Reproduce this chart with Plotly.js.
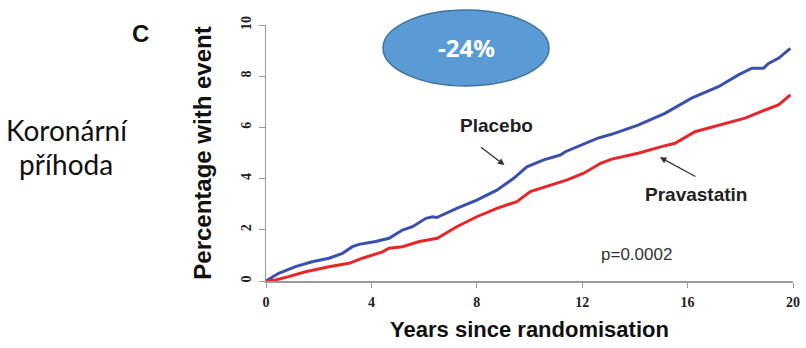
<!DOCTYPE html>
<html>
<head>
<meta charset="utf-8">
<script src="https://cdn.plot.ly/plotly-3.0.1.min.js"></script>
<style>
html,body{margin:0;padding:0;background:#fff;}
#chart{width:806px;height:348px;}
</style>
</head>
<body>
<div id="chart"></div>
<script>
// Years since randomisation (x) and percentage with event (y)
const placeboYears = [0, 0.48, 1.12, 1.75, 2.39, 2.9, 3.28, 3.53, 4.16, 4.67, 5.18, 5.56, 6.07, 6.32, 6.48, 7.24, 8.0, 8.76, 9.4, 9.9, 10.54, 11.17, 11.36, 11.94, 12.57, 13.14, 14.12, 15.14, 16.15, 17.17, 17.93, 18.44, 18.88, 19.07, 19.45, 19.9];
const placeboPct   = [0, 0.30, 0.56, 0.75, 0.89, 1.08, 1.34, 1.43, 1.54, 1.67, 1.99, 2.12, 2.45, 2.51, 2.48, 2.84, 3.16, 3.55, 4.01, 4.46, 4.73, 4.92, 5.05, 5.31, 5.57, 5.74, 6.09, 6.55, 7.14, 7.59, 8.05, 8.31, 8.31, 8.5, 8.7, 9.09];

const pravaYears = [0, 0.36, 0.86, 1.5, 2.39, 3.15, 3.66, 4.42, 4.67, 5.18, 5.82, 6.5, 7.24, 8.0, 8.76, 9.52, 10.03, 10.79, 11.43, 12.06, 12.7, 13.12, 14.12, 15.01, 15.52, 16.28, 17.17, 18.18, 18.94, 19.45, 19.9];
const pravaPct   = [0, 0.04, 0.17, 0.36, 0.56, 0.69, 0.89, 1.14, 1.28, 1.34, 1.54, 1.67, 2.12, 2.51, 2.84, 3.1, 3.49, 3.75, 3.95, 4.21, 4.6, 4.76, 4.99, 5.25, 5.38, 5.83, 6.09, 6.36, 6.68, 6.88, 7.27];

const xTicks = [0, 4, 8, 12, 16, 20];
const yTicks = [0, 2, 4, 6, 8, 10];

const seriesNames = ['Placebo', 'Pravastatin'];
const reductionLabel = '-24%';
const pValueLabel = 'p=0.0002';
const panelLabel = 'C';
const sideLabel = ['Koronární', 'příhoda'];
const xTitle = 'Years since randomisation';
const yTitle = 'Percentage with event';

const traces = [
  {x: placeboYears, y: placeboPct, name: seriesNames[0], type: 'scatter', mode: 'lines',
   line: {color: '#3b4fae', width: 3}},
  {x: pravaYears, y: pravaPct, name: seriesNames[1], type: 'scatter', mode: 'lines',
   line: {color: '#e8262a', width: 3}}
];

const bold = {family: 'Liberation Sans, Arial, sans-serif', weight: 'bold', color: '#111'};
const tickFont = {family: 'Liberation Serif, Times New Roman, serif', weight: 'bold', size: 14, color: '#222'};
const px = v => (v - 266) / 527;   // page x -> paper
const py = v => (281 - v) / 256;   // page y -> paper

const layout = {
  width: 806, height: 348,
  margin: {l: 266, r: 13, t: 25, b: 67},
  paper_bgcolor: '#fff', plot_bgcolor: '#fff',
  showlegend: false,
  xaxis: {
    range: [0, 20], tickvals: xTicks, ticktext: xTicks.map(String),
    showline: true, linecolor: '#9a9a9a', linewidth: 1.5,
    ticks: 'outside', ticklen: 5, tickcolor: '#9a9a9a', ticklabelstandoff: 3,
    showgrid: false, zeroline: false, tickfont: tickFont,
    title: {text: xTitle, font: Object.assign({size: 22}, bold), standoff: 12}
  },
  yaxis: {
    range: [0, 10], tickvals: yTicks, ticktext: yTicks.map(String), tickangle: -90,
    showline: true, linecolor: '#9a9a9a', linewidth: 1.5,
    ticks: 'outside', ticklen: 6, tickcolor: '#9a9a9a', ticklabelstandoff: 2,
    showgrid: false, zeroline: false, tickfont: tickFont,
    title: {text: yTitle, font: Object.assign({size: 24}, bold), standoff: 20}
  },
  shapes: [
    {type: 'circle', xref: 'paper', yref: 'paper',
     x0: px(383), x1: px(549), y0: py(86), y1: py(10),
     fillcolor: '#5b9bd5', line: {color: '#41719c', width: 1.5}, layer: 'above'}
  ],
  annotations: [
    {xref: 'paper', yref: 'paper', x: px(466), y: py(47), xanchor: 'center', yanchor: 'middle',
     text: '<b>' + reductionLabel + '</b>', showarrow: false,
     font: {family: 'Noto Sans, Open Sans, sans-serif', weight: 700, size: 24, color: '#fff'}},
    {xref: 'paper', yref: 'paper', x: px(140), y: py(33), xanchor: 'center', yanchor: 'middle',
     text: panelLabel, showarrow: false, font: Object.assign({size: 24}, bold)},
    {xref: 'paper', yref: 'paper', x: px(67), y: py(130), xanchor: 'center', yanchor: 'middle',
     text: sideLabel[0], showarrow: false, font: {family: 'Lato, sans-serif', size: 28, color: '#111'}},
    {xref: 'paper', yref: 'paper', x: px(66), y: py(164), xanchor: 'center', yanchor: 'middle',
     text: sideLabel[1], showarrow: false, font: {family: 'Lato, sans-serif', size: 28, color: '#111'}},
    {x: 9.05, y: 4.53, xref: 'x', yref: 'y', ax: -25, ay: -19, axref: 'pixel', ayref: 'pixel',
     text: '', showarrow: true, arrowhead: 2, arrowsize: 1, arrowwidth: 1.3, arrowcolor: '#333'},
    {x: 8.76, y: 6.07, xref: 'x', yref: 'y', text: seriesNames[0], showarrow: false,
     font: Object.assign({size: 19}, bold, {color: '#222'})},
    {x: 14.95, y: 4.83, xref: 'x', yref: 'y', ax: 37, ay: 20, axref: 'pixel', ayref: 'pixel',
     text: '', showarrow: true, arrowhead: 2, arrowsize: 1, arrowwidth: 1.3, arrowcolor: '#333'},
    {x: 16.33, y: 3.36, xref: 'x', yref: 'y', text: seriesNames[1], showarrow: false,
     font: Object.assign({size: 19}, bold, {color: '#222'})},
    {x: 14.06, y: 1.02, xref: 'x', yref: 'y', text: pValueLabel, showarrow: false,
     font: {family: 'Liberation Sans, Arial, sans-serif', size: 17, color: '#333'}}
  ]
};

Plotly.newPlot('chart', traces, layout, {staticPlot: true, displayModeBar: false});
</script>
</body>
</html>
